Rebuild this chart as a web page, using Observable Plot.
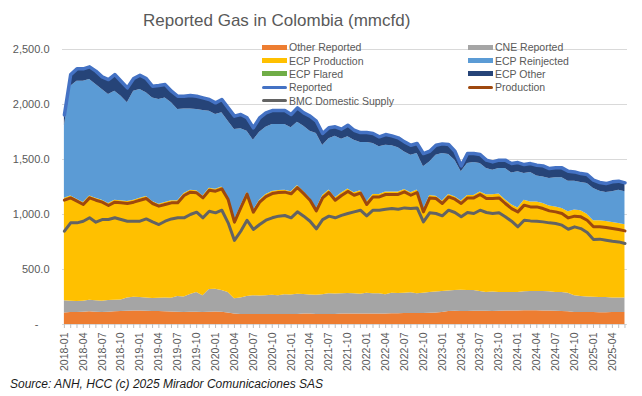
<!DOCTYPE html>
<html><head><meta charset="utf-8">
<script src="https://cdn.jsdelivr.net/npm/d3@7"></script>
<script src="https://cdn.jsdelivr.net/npm/@observablehq/plot@0.6"></script>
<style>
body{margin:0;background:#fff;}
#wrap{position:relative;width:642px;height:396px;overflow:hidden;font-family:"Liberation Sans",Arial,sans-serif;}
#wrap svg{position:absolute;left:0;top:0;}
.title{position:absolute;left:143px;top:12px;font-size:17px;line-height:17px;color:#595959;white-space:nowrap;}
.caption{position:absolute;left:10px;top:378px;font-size:12px;line-height:12px;font-style:italic;color:#1a1a1a;white-space:nowrap;}
.leg{position:absolute;font-size:10.5px;line-height:14px;height:14px;color:#595959;white-space:nowrap;display:flex;align-items:center;}
.leg .sw{display:inline-block;width:25px;margin-right:2px;}
</style></head><body><div id="wrap"></div>
<script>
// ---- categories / tick labels ----
const startYear = 2018, startMonth = 1;
const xTickLabels = ["2018-01","2018-04","2018-07","2018-10","2019-01","2019-04","2019-07","2019-10",
  "2020-01","2020-04","2020-07","2020-10","2021-01","2021-04","2021-07","2021-10",
  "2022-01","2022-04","2022-07","2022-10","2023-01","2023-04","2023-07","2023-10",
  "2024-01","2024-04","2024-07","2024-10","2025-01","2025-04"];
const yTicks = [0, 500, 1000, 1500, 2000, 2500];

// ---- stacked series (mmcfd), monthly 2018-01 .. 2025-06 ----
const otherReported = [105,110,108,112,115,112,110,112,115,118,120,122,122,120,118,118,116,114,112,110,
  112,112,110,112,114,112,105,95,92,90,90,92,92,90,92,92,90,92,95,95,
  92,90,92,92,95,95,96,96,95,96,95,96,98,98,100,100,100,100,102,105,
  110,118,120,118,118,120,120,120,118,120,122,122,122,124,124,124,122,122,120,118,
  116,110,108,108,108,106,106,108,108,110];
const cneReported = [110,102,102,100,105,103,102,106,105,104,120,126,123,120,118,120,124,124,143,140,
  160,178,152,206,206,198,185,140,148,165,172,166,170,175,170,178,178,183,177,173,
  173,180,188,186,185,187,184,179,190,184,185,174,187,184,185,188,180,185,188,190,
  190,187,190,194,190,190,180,170,177,172,168,168,170,174,176,176,178,176,172,172,
  169,152,147,142,140,139,139,134,132,130];
const ecpProduction = [933,957,929,897,949,933,918,882,910,902,878,882,903,923,882,856,869,886,869,941,
  949,925,907,921,910,941,864,713,838,948,777,872,919,943,956,951,938,988,936,880,
  786,903,942,874,915,950,917,942,828,902,902,934,919,922,943,909,942,761,883,872,
  822,877,851,810,865,863,904,890,885,894,845,799,767,832,814,814,799,780,777,764,
  739,778,779,753,695,698,692,685,678,666];
const ecpReinjected = [657,997,1073,1103,1058,1033,1006,990,991,951,897,991,988,943,942,951,951,891,830,769,
  739,739,776,700,679,673,694,824,701,554,636,618,613,610,600,597,582,576,595,609,
  685,454,466,560,490,474,478,437,541,463,433,426,420,402,341,342,332,387,305,372,
  432,363,333,266,290,299,259,238,223,232,283,289,329,242,268,237,243,249,264,279,
  279,263,257,279,293,269,263,279,303,300];
const ecpOther = [100,106,112,112,115,122,115,137,151,137,136,115,130,130,106,127,121,106,121,115,
  122,121,115,106,106,121,121,122,130,122,113,131,130,127,127,127,121,130,121,137,
  112,109,100,85,91,106,91,91,91,91,91,97,91,91,91,91,91,121,97,91,
  88,91,81,54,91,82,82,76,75,76,76,85,84,82,81,97,100,91,91,91,
  90,84,81,81,76,79,81,91,82,82];

// ---- line series (mmcfd) ----
const reported = [1905,2272,2324,2324,2342,2303,2251,2227,2272,2212,2151,2236,2266,2236,2166,2172,2181,2121,2075,2075,
  2082,2075,2060,2045,2015,2045,1969,1894,1909,1879,1788,1879,1924,1945,1945,1945,1909,1969,1924,1894,
  1848,1736,1788,1797,1776,1812,1766,1745,1745,1736,1706,1727,1715,1697,1660,1630,1645,1554,1575,1630,
  1642,1636,1575,1442,1554,1554,1545,1494,1478,1494,1494,1463,1472,1454,1463,1448,1442,1418,1424,1424,
  1393,1387,1372,1363,1312,1291,1281,1297,1303,1288];
const production = [1130,1151,1121,1091,1151,1130,1112,1082,1112,1106,1100,1112,1130,1145,1100,1076,1091,1106,1106,1173,
  1203,1197,1151,1221,1212,1233,1136,930,1060,1185,1021,1112,1163,1190,1200,1203,1188,1245,1190,1130,
  1033,1151,1200,1130,1173,1210,1175,1195,1091,1160,1160,1182,1182,1182,1206,1175,1200,1024,1151,1145,
  1100,1160,1139,1100,1151,1151,1182,1145,1145,1151,1100,1054,1024,1085,1069,1069,1054,1033,1024,1009,
  969,985,979,948,888,888,882,872,863,851];
const bmcDomesticSupply = [848,924,924,939,970,930,954,954,970,954,939,939,939,960,933,909,939,960,970,970,
  1000,1021,970,1030,1015,1039,924,764,848,948,864,909,948,970,985,991,970,1024,985,939,
  870,954,985,970,992,1009,1024,1039,988,1039,1039,1048,1054,1048,1060,1054,1060,933,1015,1009,
  988,1039,1018,979,1018,1009,1039,1018,1009,1015,979,939,888,948,942,939,933,924,918,903,
  866,888,872,836,773,776,766,757,751,736];

// ---- names & colours ----
const stackNames = ["Other Reported","CNE Reported","ECP Production","ECP Flared","ECP Reinjected","ECP Other"];
const stackColors = ["#ED7D31","#A5A5A5","#FFC000","#70AD47","#5B9BD5","#264478"];
const lineNames = ["Reported","Production","BMC Domestic Supply"];
const lineColors = ["#4472C4","#9E480E","#636363"];

const stackValues = {"Other Reported": otherReported, "CNE Reported": cneReported,
  "ECP Production": ecpProduction, "ECP Reinjected": ecpReinjected, "ECP Other": ecpOther};
const lineValues = {"Reported": reported, "Production": production, "BMC Domestic Supply": bmcDomesticSupply};

const n = reported.length;
const monthLabel = i => {
  const m = startMonth - 1 + i;
  return `${startYear + Math.floor(m / 12)}-${String(m % 12 + 1).padStart(2, "0")}`;
};
const stackRows = [];
for (const name of stackNames) {
  const vals = stackValues[name];
  if (!vals) continue;
  vals.forEach((v, i) => stackRows.push({series: name, i, value: v}));
}
const lineRows = name => lineValues[name].map((v, i) => ({i, value: v}));
const allMonths = d3.range(n);
const labelIdx = allMonths.filter(i => xTickLabels.includes(monthLabel(i)));

const chart = Plot.plot({
  width: 642, height: 396,
  marginLeft: 62, marginRight: 15, marginTop: 49, marginBottom: 72,
  x: {domain: [-0.3, n - 1 + 0.4], label: null},
  y: {domain: [0, 2500], label: null},
  color: {domain: stackNames, range: stackColors},
  style: {fontFamily: '"Liberation Sans", Arial, sans-serif', fontSize: "11px", color: "#595959", background: "transparent"},
  marks: [
    Plot.ruleY(yTicks.filter(d => d > 0), {stroke: "#d9d9d9", strokeWidth: 1}),
    Plot.areaY(stackRows, {x: "i", y: "value", fill: "series", order: stackNames, curve: "linear"}),
    Plot.ruleY([0], {stroke: "#d9d9d9", strokeWidth: 1}),
    ...lineNames.map((name, k) => Plot.line(lineRows(name), {
      x: "i", y: "value", stroke: lineColors[k], strokeWidth: k === 0 ? 3.5 : 3,
      strokeLinejoin: "round", strokeLinecap: "round"})),
    Plot.axisY({ticks: yTicks, tickSize: 0, tickPadding: 13, fontSize: 11, label: null,
      tickFormat: d => d === 0 ? "-\u2003" : d3.format(",.1f")(d)}),
    Plot.axisX({ticks: allMonths, tickSize: 4, tickFormat: () => "", stroke: "#bfbfbf", label: null}),
    Plot.axisX({ticks: labelIdx, tickSize: 0, tickPadding: 8, tickRotate: -90, fontSize: 10.5, label: null,
      tickFormat: i => monthLabel(i)})
  ]
});

const wrap = document.getElementById("wrap");
wrap.appendChild(chart);

const title = document.createElement("div");
title.className = "title";
title.textContent = "Reported Gas in Colombia (mmcfd)";
wrap.appendChild(title);

// legend (two columns, transparent)
const legendItems = [
  ["Other Reported", "#ED7D31", "area"], ["CNE Reported", "#A5A5A5", "area"],
  ["ECP Production", "#FFC000", "area"], ["ECP Reinjected", "#5B9BD5", "area"],
  ["ECP Flared", "#70AD47", "area"], ["ECP Other", "#264478", "area"],
  ["Reported", "#4472C4", "line"], ["Production", "#9E480E", "line"],
  ["BMC Domestic Supply", "#636363", "line"]
];
const colX = [262, 468], rowY = [47.3, 60.6, 73.9, 87.2, 100.5];
legendItems.forEach(([name, color, kind], k) => {
  const d = document.createElement("div");
  d.className = "leg";
  d.style.left = colX[k % 2] + "px";
  d.style.top = (rowY[Math.floor(k / 2)] - 7) + "px";
  const sw = document.createElement("span");
  sw.className = "sw";
  sw.style.background = color;
  sw.style.height = kind === "area" ? "5px" : "3px";
  if (kind === "line") sw.style.borderRadius = "2px";
  d.appendChild(sw);
  d.appendChild(document.createTextNode(name));
  wrap.appendChild(d);
});

const cap = document.createElement("div");
cap.className = "caption";
cap.textContent = "Source: ANH, HCC (c) 2025 Mirador Comunicaciones SAS";
wrap.appendChild(cap);
</script>
</body></html>
